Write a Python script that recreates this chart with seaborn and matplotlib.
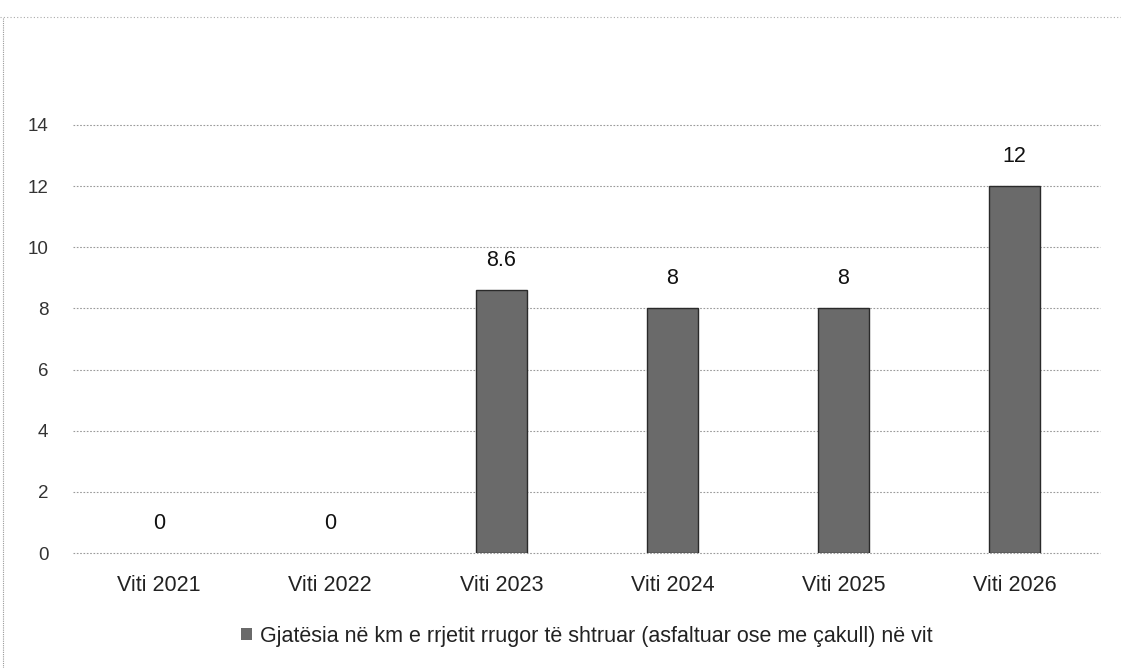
import matplotlib
matplotlib.use("Agg")
import matplotlib.pyplot as plt
from matplotlib.lines import Line2D
import seaborn as sns
import pandas as pd

# Data
years = ["Viti 2021", "Viti 2022", "Viti 2023", "Viti 2024", "Viti 2025", "Viti 2026"]
km_paved = [0, 0, 8.6, 8, 8, 12]
value_labels = ["0", "0", "8.6", "8", "8", "12"]
y_ticks = [0, 2, 4, 6, 8, 10, 12, 14]
series_name = "Gjatësia në km e rrjetit rrugor të shtruar (asfaltuar ose me çakull) në vit"

df = pd.DataFrame({"year": years, "km": km_paved})

sns.set_theme(style="white")
plt.rcParams["font.family"] = ["Liberation Sans", "DejaVu Sans"]

fig = plt.figure(figsize=(11.21, 6.68), dpi=100)
ax = fig.add_axes([0.0655, 0.172, 0.916, 0.641])

sns.barplot(data=df, x="year", y="km", color="#6a6a6a", width=0.30,
            edgecolor="#2a2a2a", linewidth=1.0, saturation=1, ax=ax,
            label=series_name, zorder=3)

# zero-height bars leave no visible outline
for patch, v in zip(ax.containers[0], km_paved):
    if v == 0:
        patch.set_linewidth(0)

ax.set_ylim(0, 14)
ax.set_xlim(-0.5, 5.5)
ax.set_yticks(y_ticks)
ax.yaxis.grid(True, color="#9a9a9a", linestyle=(0, (1.5, 1.5)), linewidth=0.8, zorder=0)
for gl in ax.get_ygridlines():
    gl.set_clip_on(False)
ax.xaxis.grid(False)
for s in ax.spines.values():
    s.set_visible(False)
ax.set_xlabel("")
ax.set_ylabel("")
ax.tick_params(axis="y", labelsize=13.5, colors="#333333", pad=18, length=0)
ax.tick_params(axis="x", labelsize=15.5, colors="#222222", pad=16, length=0)

ax.bar_label(ax.containers[0], labels=value_labels, padding=14,
             fontsize=15.5, color="#111111")

ax.legend(loc="upper center", bbox_to_anchor=(0.5, -0.125), frameon=False,
          fontsize=15.5, handlelength=0.5, handleheight=0.5,
          handletextpad=0.4, labelcolor="#222222")

# dotted page frame on the top and left edges
fig.add_artist(Line2D([0.0, 1.0], [0.975, 0.975], transform=fig.transFigure,
                      color="#aaaaaa", linestyle=(0, (1, 2)), linewidth=0.8))
fig.add_artist(Line2D([0.003, 0.003], [0.0, 0.975], transform=fig.transFigure,
                      color="#999999", linestyle=(0, (1, 1)), linewidth=0.8))

fig.savefig("out.png", dpi=100, facecolor="white")
